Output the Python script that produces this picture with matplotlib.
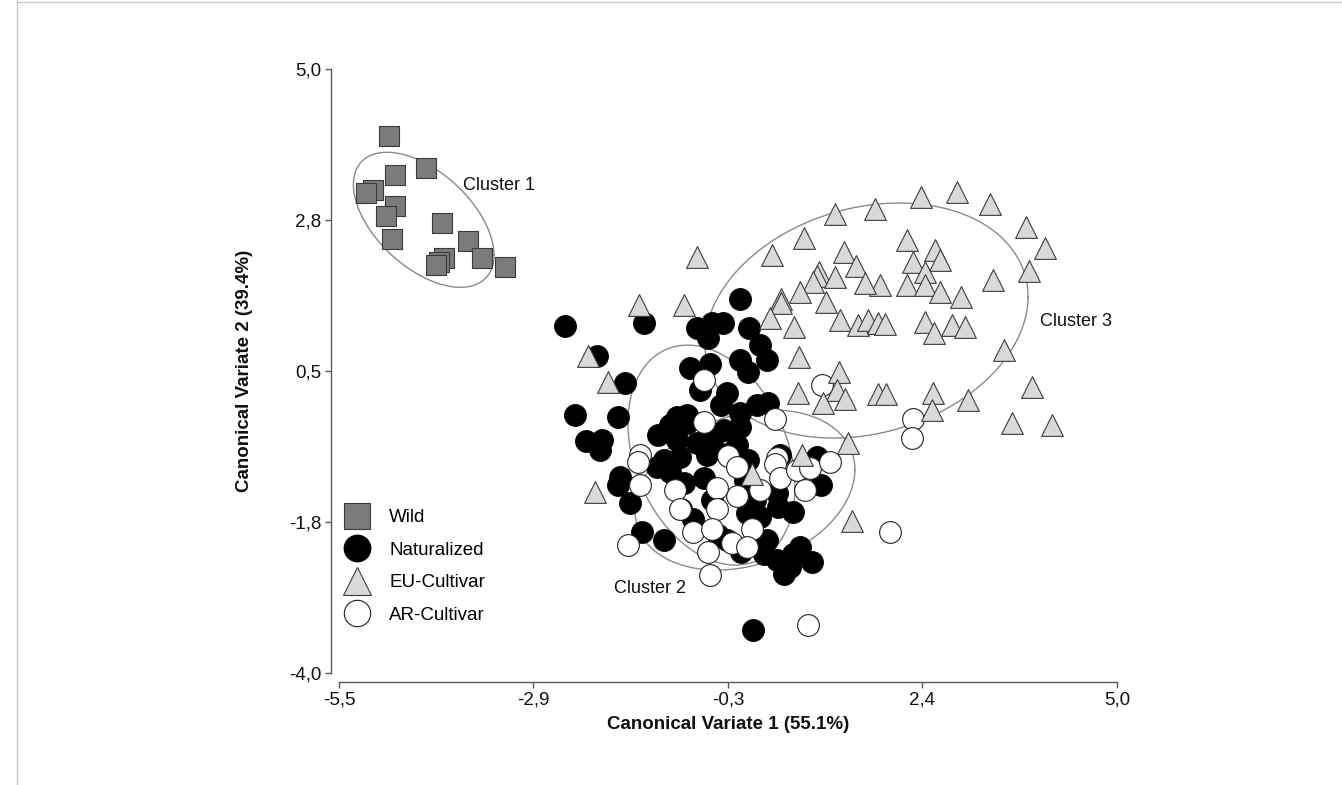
import numpy as np
import matplotlib
matplotlib.use("Agg")
import matplotlib.pyplot as plt
from matplotlib.lines import Line2D

plt.rcParams['font.family'] = ['Liberation Sans', 'DejaVu Sans']

# ---------------- data ----------------
wild_x = [-4.82, -4.32, -4.75, -5.04, -5.14, -4.74, -4.87, -4.11, -4.78, -3.76,
          -4.08, -4.15, -4.19, -3.57, -3.26]
wild_y = [4.00, 3.52, 3.42, 3.20, 3.15, 2.96, 2.81, 2.71, 2.46, 2.44,
          2.18, 2.13, 2.08, 2.19, 2.05]

nat_x = [-0.09, -2.45, -1.39, -0.67, -0.47, -0.32, -0.52, 0.04, 0.18, -2.02,
         -0.09, 0.27, 0.02, -0.49, -0.76, -0.63, -0.27, -0.34, -1.64, 0.14,
         0.29, -2.32, -1.73, -0.94, -1.03, -0.81, -0.31, -0.09, -2.16, -1.95,
         -1.98, -1.19, -0.94, -0.67, -0.13, -0.45, -0.27, 0.02, -1.12, -0.90,
         0.45, -1.71, -0.54, -1.21, -1.03, 0.95, -1.73, -0.58, -0.85, -1.57,
         -1.41, -1.12, -0.88, -0.72, -0.47, -0.38, -0.27, -0.07, 0.00, 0.11,
         0.18, 0.27, 0.23, 0.43, 0.63, 0.41, 1.01, 0.41, 0.59, 0.63,
         0.72, 0.50, 0.88, 0.09, -0.02, -0.09, -0.81]
nat_y = [1.58, 1.17, 1.22, 1.14, 1.21, 1.21, 0.99, 1.14, 0.89, 0.72,
         0.66, 0.66, 0.49, 0.61, 0.54, 0.22, 0.17, -0.01, 0.32, -0.01,
         0.03, -0.16, -0.18, -0.18, -0.31, -0.28, -0.38, -0.33, -0.55, -0.53,
         -0.68, -0.45, -0.53, -0.58, -0.60, -0.50, -0.73, -0.83, -0.83, -0.78,
         -0.75, -1.08, -0.75, -0.93, -1.00, -0.78, -1.20, -1.10, -1.17, -1.47,
         -1.90, -2.02, -1.55, -1.70, -1.42, -1.94, -2.02, -2.19, -1.62, -1.42,
         -1.67, -2.02, -2.22, -1.52, -1.60, -1.32, -1.20, -2.32, -2.42, -2.22,
         -2.12, -2.52, -2.34, -3.36, -1.13, -0.13, -0.16]

eu_x = [-0.67, -0.84, 0.34, 0.78, 1.19, 1.73, 2.36, 2.84, 3.29, 3.77,
        4.03, 3.81, 3.33, 2.16, 1.32, 2.54, 2.25, 2.61, 2.41, 1.48,
        0.98, 0.95, 1.19, 0.90, 2.16, 2.41, 1.80, 1.60, 2.61, 2.90,
        0.72, 0.46, 0.46, 1.07, 0.32, 0.64, 1.26, 1.50, 1.64, 1.77,
        1.87, 2.41, 2.53, 2.77, 2.95, 3.47, 0.71, 1.25, 1.22, 1.33,
        1.03, 0.70, 1.78, 1.88, 2.52, 2.50, 2.99, 3.85, 3.58, 4.12,
        1.37, -1.45, -2.14, -1.87, -2.05, 0.08, 0.75, 1.43]
eu_y = [2.20, 1.48, 2.23, 2.48, 2.84, 2.92, 3.09, 3.17, 2.99, 2.65,
        2.34, 1.99, 1.86, 2.45, 2.28, 2.30, 2.13, 2.16, 1.98, 2.06,
        1.98, 1.92, 1.90, 1.83, 1.78, 1.78, 1.78, 1.81, 1.68, 1.61,
        1.68, 1.58, 1.51, 1.53, 1.29, 1.16, 1.26, 1.19, 1.26, 1.21,
        1.20, 1.23, 1.06, 1.19, 1.16, 0.81, 0.71, 0.49, 0.22, 0.08,
        0.02, 0.17, 0.16, 0.16, 0.17, -0.08, 0.07, 0.26, -0.28, -0.31,
        -0.58, 1.48, 0.72, 0.34, -1.30, -1.04, -0.75, -1.73]

ar_x = [-0.58, -0.58, 0.38, -1.44, -1.46, -0.25, 0.41, -1.44, -0.13, 0.38,
        0.45, 0.68, 0.86, 1.12, 0.79, 0.18, -0.13, -0.40, -0.97, -0.90,
        -0.40, -0.72, -0.47, 0.07, -0.20, 0.00, -0.52, -1.60, -0.49, 0.83,
        1.94, 2.25, 2.24, 1.02]
ar_y = [0.37, -0.26, -0.22, -0.75, -0.85, -0.77, -0.80, -1.20, -0.93, -0.88,
        -1.10, -0.98, -0.95, -0.85, -1.27, -1.27, -1.37, -1.25, -1.27, -1.55,
        -1.55, -1.90, -1.85, -1.85, -2.07, -2.12, -2.19, -2.09, -2.54, -3.29,
        -1.90, -0.21, -0.50, 0.29]

# confidence ellipses: centre x, centre y, half-width, half-height, y-offset at rightmost point
ell_cx = [-4.357, 1.619, -0.473, -0.021]
ell_cy = [2.753, 1.252, -0.753, -1.274]
ell_w = [0.949, 2.18, 1.127, 1.484]
ell_h = [1.006, 1.751, 1.639, 1.192]
ell_k = [-0.525, 0.355, -0.471, 0.304]

cluster_names = ["Cluster 1", "Cluster 3", "Cluster 2"]
cluster_lx = [-3.83, 3.96, -1.79]
cluster_ly = [3.26, 1.24, -2.74]

group_labels = ["Wild", "Naturalized", "EU-Cultivar", "AR-Cultivar"]

xticks = [-5.5, -2.875, -0.25, 2.375, 5.0]
xtick_labels = ["-5,5", "-2,9", "-0,3", "2,4", "5,0"]
yticks = [-4.0, -1.75, 0.5, 2.75, 5.0]
ytick_labels = ["-4,0", "-1,8", "0,5", "2,8", "5,0"]

# ---------------- figure ----------------
W, H = 1342, 785
fig = plt.figure(figsize=(W / 100, H / 100), dpi=100)
fig.patch.set_facecolor('white')
ax = fig.add_axes([339 / W, 1 - 673 / H, 778 / W, 604 / H])

# thin frame of the page
fig.add_artist(Line2D([17 / W, 17 / W], [0, 1], color='#c8c8c8', lw=1))
fig.add_artist(Line2D([17 / W, 1], [1 - 1.5 / H, 1 - 1.5 / H], color='#c8c8c8', lw=1))

ellcol = '#8a8a8a'
t = np.linspace(0, 2 * np.pi, 400)
for cx, cy, ew, eh, ek in zip(ell_cx, ell_cy, ell_w, ell_h, ell_k):
    ex = cx + ew * np.cos(t)
    ey = cy + ek * np.cos(t) + np.sqrt(eh ** 2 - ek ** 2) * np.sin(t)
    ax.plot(ex, ey, color=ellcol, lw=1.0, zorder=1)

ax.scatter(wild_x, wild_y, marker='s', s=210, facecolor='#7b7b7b',
           edgecolor='#3a3a3a', linewidths=0.8, zorder=3, clip_on=False)
ax.scatter(nat_x, nat_y, marker='o', s=250, facecolor='black',
           edgecolor='black', linewidths=0.6, zorder=3, clip_on=False)
ax.scatter(ar_x, ar_y, marker='o', s=245, facecolor='white',
           edgecolor='#222222', linewidths=0.8, zorder=4, clip_on=False)
ax.scatter(eu_x, eu_y, marker='^', s=245, facecolor='#d9d9d9',
           edgecolor='#3c3c3c', linewidths=0.8, zorder=5, clip_on=False)

for name, lx, ly in zip(cluster_names, cluster_lx, cluster_ly):
    ax.text(lx, ly, name, fontsize=13, color='#111111', ha='left', va='center', zorder=6)

ax.set_xlim(-5.5, 5.0)
ax.set_ylim(-4.0, 5.0)
ax.set_xticks(xticks)
ax.set_xticklabels(xtick_labels)
ax.set_yticks(yticks)
ax.set_yticklabels(ytick_labels)

for side in ['top', 'right']:
    ax.spines[side].set_visible(False)
ax.spines['left'].set_position(('outward', 5.8))
ax.spines['bottom'].set_position(('outward', 6.5))
for side in ['left', 'bottom']:
    ax.spines[side].set_color('#5a5a5a')
    ax.spines[side].set_linewidth(1.0)
ax.tick_params(axis='both', length=4, width=1, color='#5a5a5a',
               labelsize=13.5, labelcolor='#111111')
ax.tick_params(axis='x', pad=3)
ax.tick_params(axis='y', pad=3)

ax.set_xlabel("Canonical Variate 1 (55.1%)", fontsize=13.5, fontweight='bold',
              color='#111111', labelpad=5)
ax.set_ylabel("Canonical Variate 2 (39.4%)", fontsize=13.5, fontweight='bold',
              color='#111111', labelpad=26)

handles = [
    Line2D([], [], ls='none', marker='s', markersize=18.5, markerfacecolor='#7b7b7b',
           markeredgecolor='#3a3a3a', markeredgewidth=0.8),
    Line2D([], [], ls='none', marker='o', markersize=19, markerfacecolor='black',
           markeredgecolor='black'),
    Line2D([], [], ls='none', marker='^', markersize=19.5, markerfacecolor='#d9d9d9',
           markeredgecolor='#3c3c3c', markeredgewidth=0.8),
    Line2D([], [], ls='none', marker='o', markersize=19, markerfacecolor='white',
           markeredgecolor='#222222', markeredgewidth=0.8),
]
ax.legend(handles, group_labels, loc='upper left', bbox_to_anchor=(0.0067, 0.2715),
          frameon=False, fontsize=13.5, handlelength=1.4, handletextpad=1.0,
          labelspacing=0.82, borderpad=0, borderaxespad=0)

fig.savefig("out.png", dpi=100, facecolor='white')
